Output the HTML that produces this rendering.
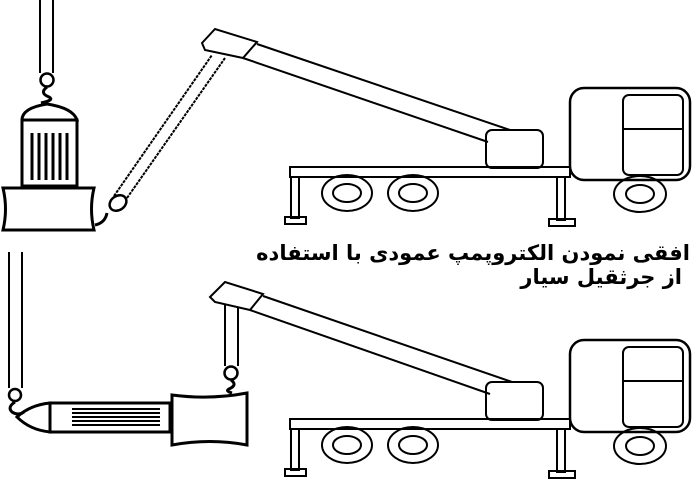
<!DOCTYPE html>
<html><head><meta charset="utf-8"><style>
html,body{margin:0;padding:0;background:#fff;width:700px;height:480px;overflow:hidden}
svg{position:absolute;left:0;top:0}
.t{position:absolute;font-family:"DejaVu Sans","Liberation Sans",sans-serif;font-weight:bold;font-size:21px;direction:rtl;color:#000;white-space:nowrap;line-height:24px}
</style></head><body>
<svg width="700" height="480" viewBox="0 0 700 480" fill="none" stroke="#000" stroke-width="2">
<defs>
<g id="truck">
  <rect x="290" y="167" width="280" height="10"/>
  <rect x="291" y="177" width="8" height="41"/>
  <rect x="285" y="217" width="21" height="7"/>
  <rect x="557" y="177" width="8" height="43"/>
  <rect x="549" y="219" width="26" height="7"/>
  <rect x="570" y="88" width="120" height="92" rx="14" stroke-width="2.5"/>
  <rect x="623" y="95" width="60" height="80" rx="6"/>
  <line x1="623" y1="129" x2="683" y2="129"/>
  <ellipse cx="347" cy="193" rx="25" ry="18"/><ellipse cx="347" cy="193" rx="14" ry="9"/>
  <ellipse cx="413" cy="193" rx="25" ry="18"/><ellipse cx="413" cy="193" rx="14" ry="9"/>
  <ellipse cx="640" cy="194" rx="26" ry="18"/><ellipse cx="640" cy="194" rx="14" ry="9"/>
  <rect x="486" y="130" width="57" height="38" rx="6"/>
</g>
</defs>
<use href="#truck"/>
<line x1="40" y1="0" x2="40" y2="73"/><line x1="53" y1="0" x2="53" y2="73"/>
<circle cx="47" cy="80" r="6.5" stroke-width="2.5"/>
<path d="M47 87 q-8 6 2 10 q6 3 -8 6" stroke-width="3"/>
<path d="M22 120 Q22 108 47 104 Q73 108 77 120 Z" stroke-width="3"/>
<rect x="22" y="120" width="55" height="66" stroke-width="3"/>
<g stroke-width="3"><line x1="32" y1="133" x2="32" y2="180"/><line x1="39" y1="133" x2="39" y2="180"/><line x1="46" y1="133" x2="46" y2="180"/><line x1="53" y1="133" x2="53" y2="180"/><line x1="60" y1="133" x2="60" y2="180"/><line x1="67" y1="133" x2="67" y2="180"/></g>
<path d="M3 188 L94 188 Q89 209 94 230 L3 230 Q8 209 3 188 Z" stroke-width="3"/>
<path d="M95 225 q10 -2 12 -12" stroke-width="3"/>
<ellipse cx="118" cy="203" rx="9" ry="7" stroke-width="2.5" transform="rotate(-35 118 203)"/>
<line x1="114" y1="196" x2="212" y2="55" stroke-dasharray="3 1"/>
<line x1="127" y1="198" x2="225" y2="58" stroke-dasharray="3 1"/>
<path d="M202 43 L215 29 L257 42 L243 58 L205 50 Z"/>
<line x1="243" y1="58" x2="488" y2="142"/>
<line x1="257" y1="44" x2="510" y2="130"/>
<g transform="translate(0,252)"><use href="#truck"/></g>
<line x1="9" y1="252" x2="9" y2="388"/><line x1="22" y1="252" x2="22" y2="388"/>
<circle cx="15" cy="395" r="6" stroke-width="2.5"/>
<path d="M15 402 q-8 5 -3 10 q6 4 12 0" stroke-width="3"/>
<path d="M50 403 Q30 405 17 417 Q30 430 50 432 Z" stroke-width="3"/>
<rect x="50" y="403" width="120" height="29" stroke-width="3"/>
<g stroke-width="2"><line x1="72" y1="409" x2="160" y2="409"/><line x1="72" y1="413" x2="160" y2="413"/><line x1="72" y1="417" x2="160" y2="417"/><line x1="72" y1="421" x2="160" y2="421"/><line x1="72" y1="425" x2="160" y2="425"/></g>
<path d="M172 395 Q210 400 247 393 L247 445 Q210 438 172 445 Z" stroke-width="3"/>
<line x1="225" y1="305" x2="225" y2="366"/><line x1="238" y1="308" x2="238" y2="366"/>
<circle cx="231" cy="373" r="6.5" stroke-width="2.5"/>
<path d="M231 380 q7 5 -2 9 q-4 2 3 4" stroke-width="3"/>
<path d="M210 297 L225 282 L263 294 L250 310 L215 302 Z"/>
<line x1="250" y1="310" x2="490" y2="394"/>
<line x1="263" y1="296" x2="512" y2="382"/>
</svg>
<div class="t" style="right:10px;top:241px">افقی نمودن الکتروپمپ عمودی با استفاده</div>
<div class="t" style="right:18px;top:265px">از جرثقیل سیار</div>
</body></html>
